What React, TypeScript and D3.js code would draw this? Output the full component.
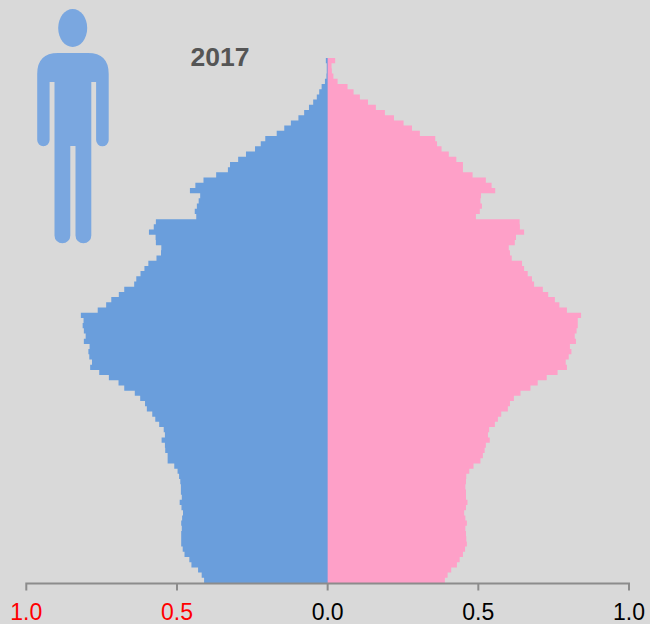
import React from "react";
import * as d3 from "d3";

const yearLabel = "2017";
const tickValues = [-1, -0.5, 0, 0.5, 1];
const maleColor = "#6a9edc";
const femaleColor = "#fea0c8";

// Top row first: oldest age (100) down to age 0
const maleShare = [
  .006,.003,.003,.004,.009,.020,.028,.036,.048,.062,.078,.097,.122,.144,.169,.207,.222,.241,.271,.297,
  .324,.331,.370,.412,.439,.457,.423,.428,.434,.441,.436,.570,.577,.593,.571,.570,.552,.553,.568,.595,
  .608,.621,.635,.642,.675,.693,.718,.735,.763,.819,.810,.813,.809,.803,.809,.790,.794,.791,.782,.788,
  .758,.726,.694,.675,.640,.622,.606,.600,.582,.572,.559,.544,.540,.551,.540,.539,.531,.531,.509,.498,
  .493,.489,.487,.487,.484,.491,.485,.480,.483,.486,.484,.486,.486,.486,.481,.475,.459,.452,.430,.418,.410,
];
const femaleShare = [
  .025,.013,.014,.019,.033,.066,.086,.107,.134,.160,.190,.220,.252,.280,.306,.357,.363,.378,.402,.427,
  .449,.449,.481,.525,.544,.556,.509,.507,.512,.505,.492,.637,.638,.652,.625,.621,.601,.605,.611,.645,
  .652,.664,.678,.685,.714,.732,.754,.769,.794,.841,.830,.830,.826,.820,.824,.804,.809,.800,.790,.794,
  .763,.727,.697,.673,.640,.618,.605,.598,.576,.565,.555,.536,.532,.538,.525,.521,.515,.507,.484,.470,
  .460,.459,.457,.459,.459,.464,.459,.453,.457,.462,.457,.459,.460,.462,.456,.449,.438,.429,.410,.398,.389,
];

const W = 650, H = 624;
const x = d3.scaleLinear().domain([-1, 1]).range([26.3, 629]);
const rowCount = maleShare.length;
const y = d3.scaleLinear().domain([0, rowCount]).range([58, 583]);

// One stepped outline per sex, so adjoining age rows leave no seams
function steppedPath(values: number[], sign: number) {
  const base = x(0) + (sign < 0 ? 0.4 : 0);
  const outline = d3.path();
  outline.moveTo(base, y(0));
  values.forEach((v, i) => {
    outline.lineTo(x(sign * v), y(i));
    outline.lineTo(x(sign * v), y(i + 1));
  });
  outline.lineTo(base, y(rowCount));
  outline.closePath();
  return outline.toString();
}

function Person() {
  const body = d3.path();
  body.moveTo(58, 53);
  body.lineTo(88, 53);
  body.quadraticCurveTo(108.7, 53, 108.7, 74);
  body.lineTo(108.7, 140);
  body.arc(102.4, 140, 6.3, 0, Math.PI);
  body.lineTo(96.1, 82);
  body.lineTo(91.3, 82);
  body.lineTo(91.3, 235.4);
  body.arc(83.4, 235.4, 7.9, 0, Math.PI);
  body.lineTo(75.5, 146);
  body.lineTo(70.3, 146);
  body.lineTo(70.3, 235.4);
  body.arc(62.4, 235.4, 7.9, 0, Math.PI);
  body.lineTo(54.5, 82);
  body.lineTo(49.6, 82);
  body.lineTo(49.6, 140);
  body.arc(43.4, 140, 6.2, 0, Math.PI);
  body.lineTo(37.2, 74);
  body.quadraticCurveTo(37.2, 53, 58, 53);
  body.closePath();
  return (
    <g fill="#7aa7e0">
      <ellipse cx={72.7} cy={28} rx={14.5} ry={19} />
      <path d={body.toString()} />
    </g>
  );
}

export default function App() {
  const axisY = 583.5;
  const font = "'Liberation Sans', Arial, sans-serif";
  return (
    <svg width={W} height={H} viewBox={`0 0 ${W} ${H}`}
      style={{ position: "absolute", left: 0, top: 0, background: "#d9d9d9", display: "block" }}>
      <Person />
      <text x={220} y={65.5} textAnchor="middle" fontFamily={font} fontSize={26.5} fontWeight="bold" fill="#555555">{yearLabel}</text>
      <path d={steppedPath(maleShare, -1)} fill={maleColor} />
      <path d={steppedPath(femaleShare, 1)} fill={femaleColor} />
      <g stroke="#8c8c8c" strokeWidth={2} fill="none">
        <path d={`M${x(-1)},590.5V${axisY}H${x(1)}V590.5`} />
        {tickValues.slice(1, -1).map((t) => (
          <line key={t} x1={x(t)} x2={x(t)} y1={axisY} y2={590.5} />
        ))}
      </g>
      {tickValues.map((t) => (
        <text key={t} x={x(t)} y={620} textAnchor="middle" fontFamily={font} fontSize={23}
          fill={t < 0 ? "#ff0000" : "#000000"}>
          {d3.format(".1f")(Math.abs(t))}
        </text>
      ))}
    </svg>
  );
}
